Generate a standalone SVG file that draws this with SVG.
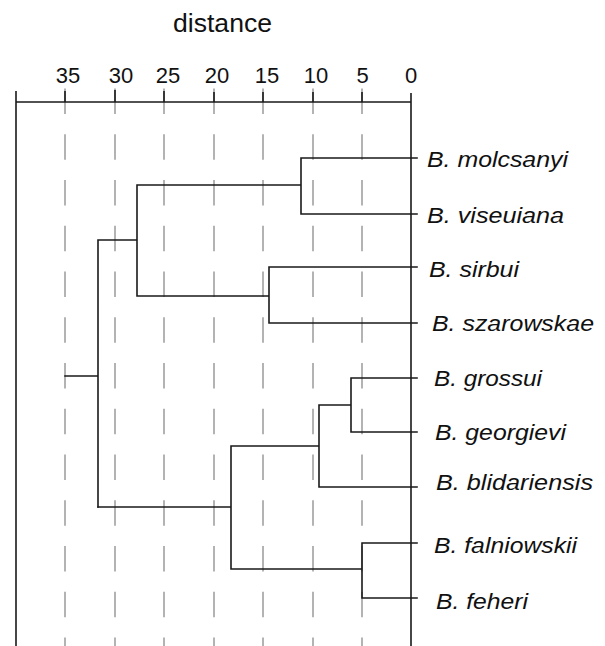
<svg xmlns="http://www.w3.org/2000/svg" width="605" height="646" viewBox="0 0 605 646">
  <style>
    .grid { stroke: #9a9a9a; stroke-width: 1.5; stroke-dasharray: 25.5 20.25; fill: none; }
    .axis { stroke: #1a1a1a; stroke-width: 1.6; fill: none; }
    .branch { stroke: #1a1a1a; stroke-width: 1.6; fill: none; stroke-linecap: square; }
    .tick { font-family: "Liberation Sans", Arial, sans-serif; font-size: 22px; fill: #111; text-anchor: middle; }
    .title { font-family: "Liberation Sans", Arial, sans-serif; font-size: 25px; fill: #111; }
    .leaf { font-family: "Liberation Sans", Arial, sans-serif; font-size: 21.5px; font-style: italic; fill: #111; }
  </style>
  <rect width="605" height="646" fill="#ffffff"/>

  <text class="title" x="173" y="32" textLength="99" lengthAdjust="spacingAndGlyphs">distance</text>

  <g id="grid">
    <line class="grid" x1="65" y1="88.5" x2="65" y2="646"/>
    <line class="grid" x1="115" y1="88.5" x2="115" y2="646"/>
    <line class="grid" x1="164" y1="88.5" x2="164" y2="646"/>
    <line class="grid" x1="214" y1="88.5" x2="214" y2="646"/>
    <line class="grid" x1="263" y1="88.5" x2="263" y2="646"/>
    <line class="grid" x1="313" y1="88.5" x2="313" y2="646"/>
    <line class="grid" x1="362" y1="88.5" x2="362" y2="646"/>
  </g>

  <g id="axis">
    <path class="axis" d="M16 102 H411 M16 91 V646 M411 93 V646 M65 91 V102 M115 90 V102 M164 91 V102 M214 92 V102 M263 92 V102 M313 92 V102 M362 92 V102"/>
    <text class="tick" x="68" y="83">35</text>
    <text class="tick" x="121" y="83">30</text>
    <text class="tick" x="168" y="83">25</text>
    <text class="tick" x="217" y="83">20</text>
    <text class="tick" x="267" y="83">15</text>
    <text class="tick" x="316" y="83">10</text>
    <text class="tick" x="362.5" y="83">5</text>
    <text class="tick" x="411" y="83">0</text>
  </g>

  <g id="connectors">
    <path class="branch" d="M65 376 H98 M98 240 V507 M98 240 H137 M137 185 V296 M137 185 H301 M301 158 V214 M301 158 H417 M301 214 H417 M137 296 H269 M269 267 V323 M269 267 H417 M269 323 H417"/>
    <path class="branch" d="M98 507 H231 M231 446 V569 M231 446 H319 M319 405 V487 M319 405 H351 M351 378 V432 M351 378 H417 M351 432 H417 M319 487 H417 M231 569 H362 M362 543 V598 M362 543 H417 M362 598 H417"/>
  </g>

  <g id="leaf-molcsanyi"><text class="leaf" x="427" y="167" textLength="141" lengthAdjust="spacingAndGlyphs">B. molcsanyi</text></g>
  <g id="leaf-viseuiana"><text class="leaf" x="427" y="223" textLength="137" lengthAdjust="spacingAndGlyphs">B. viseuiana</text></g>
  <g id="leaf-sirbui"><text class="leaf" x="429" y="277" textLength="90" lengthAdjust="spacingAndGlyphs">B. sirbui</text></g>
  <g id="leaf-szarowskae"><text class="leaf" x="432" y="331" textLength="162" lengthAdjust="spacingAndGlyphs">B. szarowskae</text></g>
  <g id="leaf-grossui"><text class="leaf" x="434" y="386" textLength="108" lengthAdjust="spacingAndGlyphs">B. grossui</text></g>
  <g id="leaf-georgievi"><text class="leaf" x="435" y="440" textLength="131" lengthAdjust="spacingAndGlyphs">B. georgievi</text></g>
  <g id="leaf-blidariensis"><text class="leaf" x="436" y="490" textLength="157" lengthAdjust="spacingAndGlyphs">B. blidariensis</text></g>
  <g id="leaf-falniowskii"><text class="leaf" x="434" y="553" textLength="143" lengthAdjust="spacingAndGlyphs">B. falniowskii</text></g>
  <g id="leaf-feheri"><text class="leaf" x="436" y="609" textLength="92" lengthAdjust="spacingAndGlyphs">B. feheri</text></g>
</svg>
